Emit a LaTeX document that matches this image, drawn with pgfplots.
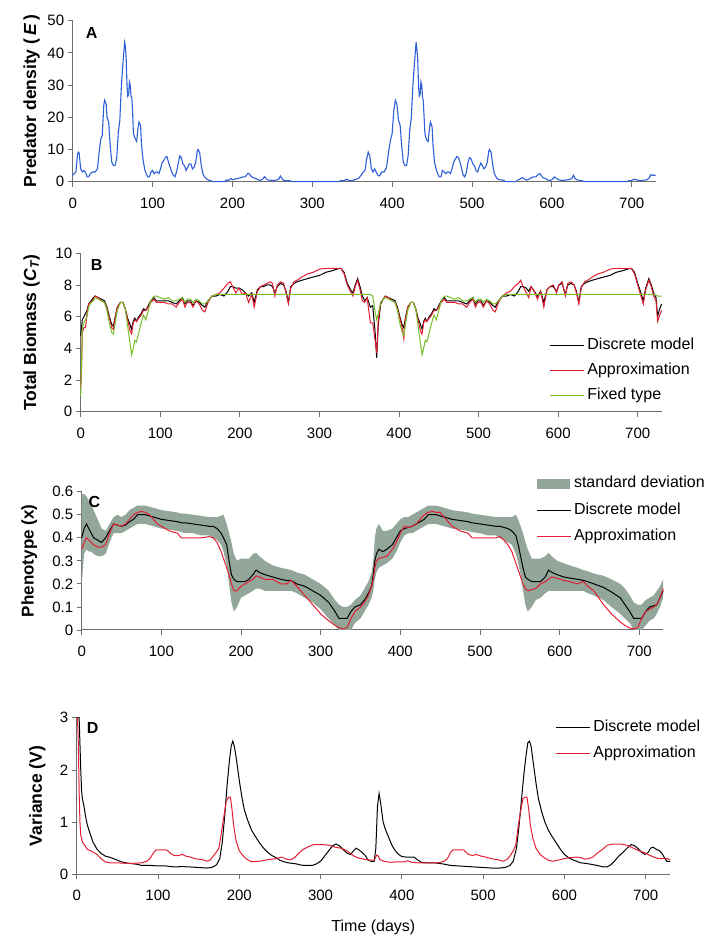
\documentclass[border=0pt]{standalone}
\usepackage{fontspec}
\setmainfont{Liberation Sans}
\usepackage{pgfplots}
\usepackage{pgfplotstable}
\pgfplotsset{compat=1.18}

\definecolor{bluel}{RGB}{45,95,215}
\definecolor{redl}{RGB}{228,30,50}
\definecolor{greenl}{RGB}{120,190,40}
\definecolor{band}{RGB}{146,166,154}
\definecolor{axgray}{RGB}{110,110,110}

% panel B: day, discrete, approximation, fixed type
\pgfplotstableread{
day  disc  appr  fixd
0    4.8   1.5   1.0
1    5.3   2.5   3.0
2    5.8   5.0   5.3
4    6.0   5.3   5.6
6    6.2   5.3   5.8
8    6.4   6.2   6.0
10   6.8   6.8   6.6
13   7.0   6.9   6.9
16   7.2   7.1   7.0
18   7.3   7.3   7.2
22   7.2   7.2   7.1
26   7.1   7.0   7.0
30   7.0   6.9   6.9
33   6.6   6.5   6.4
36   6.0   5.9   5.6
39   5.5   5.3   5.0
41   5.4   5.2   4.9
43   5.9   5.8   5.5
46   6.6   6.6   6.4
50   6.9   6.9   6.9
53   6.9   6.9   6.9
56   6.5   6.5   6.5
59   5.9   5.8   5.4
62   5.5   5.1   4.3
64   5.2   4.9   3.6
66   5.7   5.6   4.0
68   5.9   5.8   4.5
70   5.7   5.7   4.4
73   6.0   5.9   5.0
76   6.2   6.1   5.6
79   6.5   6.4   6.1
82   6.4   6.4   5.8
85   6.7   6.6   6.4
88   7.0   6.9   7.0
92   7.2   7.1   7.3
95   7.0   6.9   7.3
100  7.0   6.9   7.2
105  7.0   6.9   7.1
110  7.0   6.8   7.2
115  6.9   6.8   7.0
120  6.8   6.6   7.0
124  7.0   6.9   7.1
128  7.2   7.1   7.2
131  6.8   6.6   6.9
134  7.0   6.9   7.1
138  7.0   6.9   7.1
141  6.7   6.6   6.9
145  7.0   7.0   7.1
149  6.9   6.8   7.0
153  6.7   6.4   6.8
156  6.6   6.3   6.8
160  7.0   6.9   7.0
165  7.3   7.3   7.3
170  7.3   7.4   7.4
175  7.4   7.5   7.4
180  7.3   7.8   7.4
185  7.6   8.1   7.4
188  7.9   8.2   7.4
191  7.9   7.9   7.4
195  7.8   7.5   7.4
199  7.8   7.8   7.4
203  7.7   7.4   7.4
207  7.5   7.5   7.4
211  7.3   6.9   7.4
215  7.5   7.4   7.4
218  6.9   6.6   7.4
222  7.7   7.6   7.4
226  7.9   7.9   7.4
230  7.9   8.0   7.4
234  8.0   8.1   7.4
238  8.0   8.2   7.4
241  7.9   8.1   7.4
244  7.5   7.3   7.4
247  7.9   8.0   7.4
251  8.1   8.2   7.4
255  8.0   8.1   7.4
258  7.6   7.5   7.4
261  6.9   6.8   7.4
264  7.9   7.8   7.4
268  8.1   8.2   7.4
272  8.2   8.3   7.4
278  8.3   8.5   7.4
285  8.4   8.7   7.4
292  8.5   8.8   7.4
300  8.6   9.0   7.4
308  8.8   9.05  7.4
316  8.9   9.05  7.4
322  9.0   9.05  7.4
327  9.05  9.05  7.4
331  8.8   8.7   7.4
335  8.1   8.0   7.4
339  7.7   7.6   7.4
342  7.5   7.3   7.4
345  8.0   7.9   7.4
348  8.4   8.3   7.4
351  7.9   7.7   7.4
354  7.3   7.0   7.4
357  7.0   6.9   7.4
360  7.2   7.2   7.4
364  6.6   5.6   7.4
367  6.7   5.6   7.3
370  5.0   4.5   6.3
372  3.4   3.7   5.8
374  5.5   5.8   6.2
377  6.8   6.9   6.9
380  7.1   7.1   7.1
383  7.3   7.3   7.2
387  7.2   7.2   7.1
391  7.1   7.0   7.0
395  7.0   6.9   6.9
398  6.6   6.5   6.4
401  6.0   5.9   5.6
404  5.5   5.3   5.0
406  5.3   4.6   4.8
408  5.9   5.8   5.5
411  6.6   6.6   6.4
415  6.9   6.9   6.9
418  6.9   6.9   6.9
421  6.5   6.5   6.5
424  5.9   5.8   5.4
427  5.5   5.1   4.3
429  5.2   4.9   3.6
431  5.7   5.6   4.0
433  5.9   5.8   4.5
435  5.7   5.7   4.4
438  6.0   5.9   5.0
441  6.2   6.1   5.6
444  6.5   6.4   6.1
447  6.4   6.4   5.8
450  6.7   6.6   6.4
453  7.0   6.9   7.0
457  7.2   7.1   7.3
460  7.0   6.9   7.3
465  7.0   6.9   7.2
470  7.0   6.9   7.1
475  7.0   6.8   7.2
480  6.9   6.8   7.0
485  6.8   6.6   7.0
489  7.0   6.9   7.1
493  7.2   7.1   7.2
496  6.8   6.6   6.9
499  7.0   6.9   7.1
503  7.0   6.9   7.1
506  6.7   6.6   6.9
510  7.0   7.0   7.1
514  6.9   6.8   7.0
518  6.7   6.4   6.8
521  6.6   6.3   6.8
525  7.0   6.9   7.0
530  7.3   7.3   7.3
535  7.3   7.5   7.4
540  7.4   7.6   7.4
545  7.3   7.9   7.4
550  7.6   8.1   7.4
553  7.9   8.3   7.4
556  7.9   7.9   7.4
560  7.8   7.5   7.4
563  7.6   7.2   7.4
566  7.9   7.9   7.4
570  7.6   7.6   7.4
574  7.3   7.1   7.4
578  7.6   7.6   7.4
582  6.9   6.6   7.4
586  7.7   7.7   7.4
590  7.9   7.9   7.4
594  7.9   8.0   7.4
598  7.6   7.5   7.4
601  8.0   8.0   7.4
605  8.1   8.2   7.4
609  7.4   7.3   7.4
612  8.0   8.1   7.4
616  8.1   8.2   7.4
620  8.0   8.0   7.4
623  7.6   7.5   7.4
626  6.9   6.8   7.4
629  7.9   7.8   7.4
633  8.1   8.2   7.4
637  8.2   8.3   7.4
643  8.3   8.5   7.4
650  8.4   8.7   7.4
657  8.5   8.8   7.4
665  8.6   9.0   7.4
673  8.8   9.05  7.4
681  8.9   9.05  7.4
687  9.0   9.05  7.4
692  9.05  9.05  7.4
696  8.8   8.7   7.4
700  8.1   8.0   7.4
704  7.5   7.3   7.4
707  7.0   6.8   7.4
710  7.8   7.7   7.4
714  8.4   8.3   7.4
717  8.0   7.9   7.4
720  7.5   7.3   7.4
723  7.2   7.0   7.35
725  6.0   5.7   7.3
727  6.4   6.0   7.3
730  6.8   6.4   7.3
}\tabB

% panel C: day, discrete model, approximation
\pgfplotstableread{
day  disc   appr
0    0.40   0.35
3    0.44   0.38
6    0.46   0.40
9    0.44   0.39
12   0.42   0.38
15   0.40   0.37
20   0.39   0.36
25   0.38   0.36
30   0.40   0.37
35   0.43   0.42
40   0.46   0.46
45   0.455  0.455
50   0.45   0.45
55   0.455  0.46
60   0.47   0.48
65   0.48   0.50
70   0.50   0.51
75   0.50   0.515
80   0.50   0.51
85   0.495  0.50
90   0.49   0.48
95   0.485  0.46
100  0.48   0.45
110  0.475  0.43
120  0.47   0.42
125  0.465  0.40
130  0.465  0.40
140  0.46   0.40
150  0.455  0.40
160  0.45   0.405
165  0.45   0.40
170  0.44   0.38
175  0.42   0.34
178  0.40   0.31
182  0.37   0.27
185  0.30   0.24
188  0.24   0.20
191  0.22   0.17
195  0.21   0.17
200  0.21   0.19
205  0.21   0.20
210  0.22   0.21
215  0.24   0.22
219  0.26   0.235
223  0.25   0.23
230  0.24   0.22
240  0.23   0.22
250  0.22   0.20
257  0.215  0.20
263  0.215  0.215
270  0.20   0.19
280  0.19   0.15
290  0.17   0.11
300  0.15   0.07
310  0.12   0.04
318  0.08   0.02
323  0.05   0.01
328  0.05   0.005
333  0.05   0.01
338  0.08   0.05
343  0.10   0.08
350  0.11   0.10
355  0.13   0.12
360  0.16   0.15
364  0.19   0.19
366  0.24   0.22
368  0.30   0.27
370  0.33   0.30
373  0.35   0.31
378  0.34   0.315
383  0.35   0.32
390  0.37   0.35
395  0.40   0.38
400  0.43   0.42
405  0.44   0.45
410  0.445  0.445
415  0.45   0.45
420  0.46   0.46
425  0.47   0.48
430  0.48   0.50
435  0.50   0.51
440  0.50   0.515
445  0.50   0.51
450  0.495  0.51
455  0.49   0.49
460  0.485  0.47
465  0.48   0.45
475  0.475  0.43
485  0.47   0.42
490  0.465  0.40
500  0.46   0.40
510  0.455  0.40
520  0.45   0.40
525  0.45   0.405
530  0.445  0.39
535  0.44   0.37
540  0.43   0.34
545  0.41   0.29
548  0.37   0.26
551  0.32   0.23
554  0.27   0.20
557  0.23   0.18
560  0.22   0.17
565  0.21   0.175
570  0.21   0.18
576  0.21   0.20
582  0.23   0.21
586  0.26   0.22
590  0.25   0.23
597  0.24   0.225
605  0.23   0.215
613  0.225  0.21
622  0.22   0.20
630  0.215  0.21
635  0.21   0.19
643  0.20   0.17
655  0.185  0.11
665  0.165  0.07
676  0.14   0.035
682  0.11   0.02
688  0.08   0.008
693  0.05   0.005
698  0.05   0.01
703  0.05   0.05
708  0.08   0.08
713  0.10   0.09
718  0.105  0.10
722  0.11   0.11
726  0.14   0.14
730  0.17   0.18
}\tabC

\tikzset{letter/.style={font=\fontsize{16}{18}\selectfont\bfseries}}

\pgfplotsset{
  panel/.style={
    scale only axis, anchor=south west, clip=false,
    xmin=0, xmax=730,
    xtick={0,100,200,300,400,500,600,700},
    axis x line*=bottom, axis y line*=left,
    axis line style={axgray, line width=1pt},
    tick align=outside, major tick length=5pt,
    tick style={axgray, line width=0.8pt},
    tick label style={font=\fontsize{15}{17}\selectfont},
    /pgf/number format/assume math mode=true,
    xticklabel style={yshift=-7.5pt},
    ylabel style={font=\fontsize{17.5}{20}\selectfont\bfseries,
                  at={(axis description cs:0,0.5)}, anchor=center},
    legend cell align=left,
    legend style={draw=none, fill=none, inner sep=0pt, anchor=north west,
                  font=\fontsize{16}{19}\selectfont,
                  nodes={inner sep=1pt, text height=11.5pt, text depth=3.5pt},
                  /tikz/every odd column/.append style={column sep=1.5pt}},
    legend image code/.code={\draw[#1] (0pt,0pt) -- (34pt,0pt);},
  },
}

\begin{document}
\begin{tikzpicture}
\path[use as bounding box] (0pt,0pt) rectangle (719pt,948pt);

% ---------------- A ----------------
\begin{axis}[panel, at={(72.7pt,766.3pt)}, width=583pt, height=161pt,
  ymin=0, ymax=50, ytick={0,10,20,30,40,50},
  ylabel={Predator density (\,\textit{E}\,)},
  ylabel style={yshift=41pt}]
\addplot[bluel, line width=1.1pt] coordinates {
(0,2)(2,2.5)(4,3)(6,8.5)(7,9.2)(8,9)(10,4)(12,3)(14,3.5)(16,3)(18,1.5)(20,1.5)
(22,2.5)(25,3)(28,3)(31,4)(33,9)(35,13)(37,14.5)(39,24)(40,25.3)(42,24)(43,20)
(45,18.5)(47,11)(49,6)(51,5)(53,5)(55,7)(57,15)(59,19)(61,30)(63,37)(65,43.3)
(66,42)(67,38)(68,30)(69,26.5)(70,27)(71,31)(72,30)(73,26.5)(74,26)(75,22)
(76,15)(78,13.5)(80,12.5)(82,17)(83,18.5)(85,17.5)(86,12)(88,7)(90,4)(92,2.5)
(94,1.5)(96,1.5)(98,3)(100,3.5)(102,2.5)(104,3)(106,3)(108,2.5)(110,4)(112,6)
(114,6.5)(116,7.5)(118,7.8)(120,6)(122,4.5)(124,3)(126,2)(128,1.5)(130,3)
(132,5.5)(134,8)(136,7.5)(138,5.5)(140,5)(142,3.5)(144,4.5)(146,5.5)(148,5.5)
(150,4)(152,4.5)(154,6)(156,9.5)(157,10)(159,9)(161,5)(163,2.5)(165,1.5)(167,1)
(170,0.5)(173,0.3)(176,0)(190,0)(192,0.5)(195,0.4)(198,1)(200,0.6)(203,0.8)
(206,1)(210,1.2)(213,1.5)(216,1.5)(219,2.5)(221,2.5)(223,1.8)(226,1.2)(229,1)
(232,0.6)(235,0.4)(238,0.8)(240,1.6)(242,1)(245,0.5)(250,0.4)(255,0.5)(258,0.8)
(260,1.8)(262,1)(264,0.4)(268,0.3)(272,0.3)(275,0)(333,0)(335,0.3)(340,0.3)
(343,0.8)(346,0.3)(350,0.3)(355,0.8)(358,1)(361,2)(364,3)(366,3.5)(368,7)
(370,9.2)(372,8)(374,4)(376,3)(378,4)(380,3)(382,2)(384,1.8)(387,3)(390,3)
(393,4.5)(396,10)(398,13)(400,15)(402,22)(404,25.3)(406,24)(408,19)(410,17.5)
(412,11)(414,6)(416,5)(418,5)(420,8)(422,16)(424,20)(426,30)(428,37)(430,43.3)
(431,41)(432,38)(433,30)(434,26.5)(435,27)(436,31)(437,30)(438,26.5)(439,25)
(440,20)(441,15)(443,13)(445,12.5)(447,17)(448,18.5)(450,17)(451,12)(453,6)
(455,4)(457,2.5)(459,1.5)(461,1.5)(463,3.5)(465,3)(467,2.5)(469,3)(471,3)
(473,2.5)(475,4)(477,6)(479,7)(481,7.8)(483,7.5)(485,6)(487,4)(489,2)(491,1.5)
(493,3)(495,6)(497,7.5)(499,7)(501,5.5)(503,5)(505,3.5)(507,3)(509,4.5)(511,5.8)
(513,5)(515,4)(517,4.5)(519,6)(521,9.5)(522,10)(524,9)(526,5)(528,2.5)(530,1.5)
(532,0.8)(535,0.6)(538,0.5)(540,0.4)(541,0)(555,0)(557,0.5)(560,0.8)(563,1.3)
(565,1)(568,0.5)(571,0.7)(574,1.2)(577,1.5)(580,1.5)(583,2.3)(585,2.5)(587,1.8)
(589,1.2)(592,1)(595,0.5)(598,0.4)(601,0.8)(603,1.5)(606,1)(609,0.5)(613,0.4)
(618,0.5)(622,0.7)(625,1)(627,2)(629,1)(632,0.5)(635,0.4)(638,0.3)(640,0)
(694,0)(696,0.3)(700,0.4)(703,0.8)(706,0.6)(709,0.4)(712,0.3)(715,0.5)(718,0.5)
(720,0.8)(722,1.2)(724,2.2)(726,2)(728,2)(730,2)};
\node[letter] at (rel axis cs:0.0326,0.925) {A};
\end{axis}

% ---------------- B ----------------
\begin{axis}[panel, at={(80.7pt,536.3pt)}, width=580.9pt, height=158.4pt,
  ymin=0, ymax=10, ytick={0,2,4,6,8,10},
  ylabel={Total Biomass (\textit{C}\textsubscript{\textit{T}})},
  ylabel style={yshift=49pt},
  legend style={at={(0.8074,0.4747)}, row sep=8pt}]
\addplot[black, line width=1pt] table[x=day, y=disc] {\tabB};
\addlegendentry{Discrete model}
\addplot[redl, line width=1pt] table[x=day, y=appr] {\tabB};
\addlegendentry{Approximation}
\addplot[greenl, line width=1pt] table[x=day, y=fixd] {\tabB};
\addlegendentry{Fixed type}
\node[letter] at (rel axis cs:0.0275,0.926) {B};
\end{axis}

% ---------------- C ----------------
\begin{axis}[panel, at={(81.7pt,318pt)}, width=581.5pt, height=138.3pt,
  ymin=0, ymax=0.6, ytick={0,0.1,0.2,0.3,0.4,0.5,0.6},
  yticklabel style={/pgf/number format/fixed},
  ylabel={Phenotype (x)},
  ylabel style={font=\fontsize{17}{20}\selectfont\bfseries, yshift=52.4pt},
  legend style={at={(0.7818,1.122)}, row sep=9.5pt}]
\addplot[fill=band, draw=none,
  legend image code/.code={\fill[band] (0pt,-5pt) rectangle (33pt,5pt);}]
coordinates {
(0,0.59)(3,0.59)(6,0.58)(9,0.56)(12,0.54)(15,0.52)(20,0.48)(25,0.44)(30,0.43)
(35,0.46)(40,0.49)(45,0.50)(50,0.49)(55,0.50)(60,0.52)(65,0.53)(70,0.54)(75,0.54)
(80,0.54)(85,0.535)(90,0.53)(95,0.525)(100,0.52)(110,0.515)(120,0.51)(125,0.505)
(130,0.505)(140,0.50)(150,0.495)(160,0.49)(165,0.49)(170,0.49)(175,0.495)
(178,0.50)(182,0.46)(185,0.42)(188,0.38)(191,0.33)(195,0.30)(200,0.31)(205,0.31)
(210,0.31)(215,0.33)(219,0.335)(223,0.32)(230,0.30)(240,0.28)(250,0.27)
(257,0.265)(263,0.26)(270,0.25)(280,0.24)(290,0.22)(300,0.20)(310,0.17)
(318,0.13)(323,0.11)(328,0.10)(333,0.10)(338,0.11)(343,0.13)(350,0.15)(355,0.18)
(360,0.21)(364,0.25)(366,0.30)(368,0.40)(370,0.44)(373,0.46)(378,0.43)(383,0.43)
(390,0.44)(395,0.46)(400,0.48)(405,0.49)(410,0.49)(415,0.50)(420,0.51)(425,0.52)
(430,0.53)(435,0.54)(440,0.54)(445,0.54)(450,0.535)(455,0.53)(460,0.525)
(465,0.52)(475,0.515)(485,0.51)(490,0.505)(500,0.50)(510,0.495)(520,0.49)
(525,0.49)(530,0.49)(535,0.49)(540,0.49)(545,0.50)(548,0.48)(551,0.45)(554,0.42)
(557,0.38)(560,0.35)(565,0.31)(570,0.31)(576,0.31)(582,0.32)(586,0.335)(590,0.32)
(597,0.30)(605,0.29)(613,0.28)(622,0.27)(630,0.26)(635,0.255)(643,0.245)
(655,0.235)(665,0.22)(676,0.20)(682,0.18)(688,0.15)(693,0.12)(698,0.11)
(703,0.11)(708,0.13)(713,0.14)(718,0.15)(722,0.17)(726,0.19)(730,0.22)
(730,0.14)(726,0.10)(722,0.07)(718,0.05)(713,0.04)(708,0.02)(703,0)(698,0)
(693,0)(688,0.03)(682,0.05)(676,0.07)(665,0.10)(655,0.13)(643,0.15)(635,0.16)
(630,0.17)(622,0.17)(613,0.17)(605,0.17)(597,0.17)(590,0.17)(586,0.17)(582,0.16)
(576,0.14)(570,0.13)(565,0.10)(560,0.08)(557,0.11)(554,0.17)(551,0.24)(548,0.29)
(545,0.33)(540,0.37)(535,0.38)(530,0.39)(525,0.40)(520,0.41)(510,0.41)(500,0.42)
(490,0.425)(485,0.43)(475,0.435)(465,0.44)(460,0.445)(455,0.45)(450,0.455)
(445,0.46)(440,0.46)(435,0.46)(430,0.45)(425,0.44)(420,0.43)(415,0.42)(410,0.42)
(405,0.41)(400,0.38)(395,0.34)(390,0.31)(383,0.29)(378,0.28)(373,0.27)(370,0.25)
(368,0.22)(366,0.17)(364,0.14)(360,0.11)(355,0.08)(350,0.05)(343,0.03)(338,0)
(333,0)(328,0)(323,0)(318,0.02)(310,0.05)(300,0.09)(290,0.12)(280,0.14)(270,0.16)
(263,0.17)(257,0.17)(250,0.17)(240,0.17)(230,0.17)(223,0.18)(219,0.18)(215,0.17)
(210,0.16)(205,0.15)(200,0.14)(195,0.10)(191,0.08)(188,0.12)(185,0.20)(182,0.28)
(178,0.34)(175,0.37)(170,0.39)(165,0.40)(160,0.41)(150,0.41)(140,0.42)(130,0.42)
(125,0.425)(120,0.43)(110,0.435)(100,0.44)(95,0.445)(90,0.45)(85,0.455)(80,0.46)
(75,0.46)(70,0.46)(65,0.45)(60,0.44)(55,0.43)(50,0.42)(45,0.42)(40,0.42)(35,0.38)
(30,0.33)(25,0.32)(20,0.32)(15,0.33)(12,0.34)(9,0.34)(6,0.35)(3,0.33)(0,0.20)};
\addlegendentry{standard deviation}
\addplot[black, line width=1pt] table[x=day, y=disc] {\tabC};
\addlegendentry{Discrete model}
\addplot[redl, line width=1pt] table[x=day, y=appr] {\tabC};
\addlegendentry{Approximation}
\node[letter] at (rel axis cs:0.0217,0.928) {C};
\end{axis}

% ---------------- D ----------------
\begin{axis}[panel, at={(76.7pt,73.7pt)}, width=593.4pt, height=156.6pt,
  ymin=0, ymax=3, ytick={0,1,2,3},
  ylabel={Variance (V)},
  ylabel style={yshift=39.4pt},
  xlabel={Time (days)},
  xlabel style={font=\fontsize{16}{18}\selectfont,
                at={(axis description cs:0.5,0)}, anchor=center, yshift=-53pt},
  legend style={at={(0.8072,0.993)}, row sep=9pt}]
\addplot[black, line width=1pt] coordinates {
(1,3.0)(3,3.0)(4,2.5)(5,2.0)(6,1.6)(7,1.45)(9,1.3)(11,1.1)(13,0.95)(16,0.8)
(20,0.62)(25,0.48)(30,0.4)(35,0.35)(40,0.33)(45,0.3)(50,0.27)(55,0.24)(60,0.22)
(65,0.21)(70,0.2)(75,0.19)(80,0.17)(90,0.17)(100,0.16)(110,0.16)(120,0.14)
(130,0.15)(135,0.14)(140,0.14)(150,0.13)(160,0.12)(166,0.13)(172,0.18)(176,0.3)
(179,0.6)(182,1.1)(185,1.7)(188,2.2)(190,2.45)(192,2.55)(194,2.45)(197,2.15)
(200,1.8)(203,1.5)(206,1.25)(210,1.05)(215,0.85)(220,0.72)(225,0.6)(230,0.5)
(235,0.42)(240,0.36)(245,0.32)(250,0.27)(255,0.24)(260,0.22)(265,0.21)(270,0.2)
(275,0.18)(280,0.17)(290,0.17)(295,0.2)(300,0.25)(305,0.35)(310,0.45)(315,0.55)
(319,0.58)(323,0.55)(328,0.47)(333,0.4)(337,0.38)(341,0.46)(344,0.5)(347,0.47)
(351,0.42)(355,0.36)(358,0.28)(362,0.25)(366,0.25)(368,0.5)(370,1.3)(372,1.55)
(374,1.35)(377,1.0)(380,0.85)(384,0.7)(388,0.55)(392,0.45)(396,0.38)(400,0.34)
(405,0.33)(410,0.33)(415,0.33)(419,0.28)(424,0.23)(430,0.22)(440,0.22)(450,0.2)
(460,0.17)(470,0.16)(480,0.15)(490,0.14)(500,0.13)(510,0.12)(520,0.12)(527,0.13)
(533,0.17)(537,0.25)(541,0.5)(544,0.9)(547,1.4)(550,1.9)(553,2.3)(555,2.52)
(557,2.55)(559,2.45)(562,2.1)(565,1.75)(568,1.45)(572,1.2)(576,1.0)(580,0.85)
(585,0.72)(590,0.6)(595,0.48)(600,0.38)(605,0.32)(610,0.28)(615,0.25)(620,0.22)
(630,0.2)(640,0.17)(648,0.14)(652,0.14)(657,0.18)(662,0.26)(667,0.35)(672,0.42)
(677,0.5)(682,0.57)(686,0.55)(690,0.5)(695,0.42)(699,0.38)(703,0.42)(706,0.5)
(709,0.52)(713,0.48)(717,0.45)(720,0.4)(723,0.32)(726,0.25)(730,0.25)};
\addlegendentry{Discrete model}
\addplot[redl, line width=1pt] coordinates {
(0,3.0)(1,3.0)(2,2.5)(3,1.6)(4,1.0)(5,0.75)(7,0.62)(10,0.55)(13,0.48)(17,0.45)
(21,0.42)(25,0.38)(30,0.3)(35,0.24)(40,0.22)(50,0.22)(60,0.21)(70,0.21)(80,0.22)
(86,0.25)(90,0.3)(94,0.4)(97,0.46)(100,0.47)(105,0.47)(110,0.47)(113,0.44)
(116,0.39)(120,0.36)(125,0.36)(130,0.38)(134,0.35)(140,0.33)(145,0.3)(150,0.29)
(155,0.28)(160,0.25)(164,0.27)(168,0.35)(172,0.43)(175,0.5)(178,0.8)(181,1.1)
(184,1.4)(187,1.48)(189,1.48)(191,1.25)(193,0.95)(196,0.65)(200,0.45)(205,0.35)
(210,0.28)(215,0.24)(225,0.25)(235,0.28)(245,0.3)(252,0.33)(258,0.29)(263,0.28)
(268,0.32)(273,0.4)(278,0.47)(285,0.53)(292,0.57)(300,0.57)(310,0.56)(318,0.52)
(325,0.5)(330,0.47)(335,0.42)(340,0.36)(345,0.32)(350,0.3)(360,0.27)(366,0.27)
(369,0.37)(371,0.35)(373,0.28)(378,0.25)(385,0.23)(395,0.24)(403,0.24)(407,0.26)
(412,0.23)(420,0.22)(430,0.22)(445,0.22)(452,0.25)(456,0.3)(460,0.42)(463,0.47)
(470,0.47)(476,0.47)(479,0.42)(482,0.38)(487,0.36)(492,0.38)(497,0.35)(503,0.33)
(510,0.3)(518,0.28)(524,0.25)(529,0.28)(533,0.35)(537,0.45)(540,0.55)(543,0.9)
(546,1.2)(549,1.45)(552,1.48)(554,1.47)(556,1.25)(558,0.95)(561,0.7)(565,0.5)
(570,0.38)(575,0.32)(580,0.27)(586,0.25)(592,0.27)(600,0.3)(608,0.32)(615,0.33)
(620,0.32)(625,0.29)(630,0.3)(635,0.33)(640,0.4)(647,0.48)(653,0.56)(660,0.58)
(670,0.58)(678,0.55)(685,0.5)(692,0.45)(698,0.42)(704,0.37)(710,0.33)(716,0.3)
(722,0.3)(726,0.3)(730,0.28)};
\addlegendentry{Approximation}
\node[letter] at (rel axis cs:0.027,0.932) {D};
\end{axis}
\end{tikzpicture}
\end{document}
